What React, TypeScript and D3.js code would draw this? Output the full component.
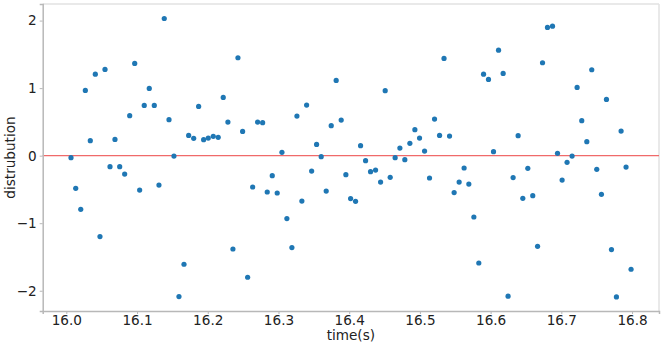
import { useEffect, useRef } from "react";
import * as d3 from "d3";

// sample times (s)
const times = [
  16.0066, 16.0133, 16.0204, 16.0269, 16.0339, 16.041, 16.0476, 16.0547, 16.0618, 16.0688,
  16.0755, 16.0825, 16.0896, 16.0967, 16.1037, 16.1102, 16.1173, 16.1244, 16.131, 16.1385,
  16.1452, 16.1522, 16.1593, 16.1664, 16.173, 16.1801, 16.1871, 16.1942, 16.2007, 16.2078,
  16.2148, 16.2219, 16.2285, 16.2356, 16.2427, 16.2493, 16.2564, 16.2635, 16.2705, 16.2776,
  16.2841, 16.2912, 16.2982, 16.3049, 16.3119, 16.319, 16.3261, 16.3331, 16.3398, 16.3469,
  16.3539, 16.3604, 16.3675, 16.3746, 16.3816, 16.3887, 16.3953, 16.402, 16.409, 16.4161,
  16.4232, 16.4302, 16.4373, 16.4444, 16.4509, 16.458, 16.465, 16.4717, 16.4787, 16.4858,
  16.4929, 16.4995, 16.5066, 16.5136, 16.5207, 16.5278, 16.5341, 16.5419, 16.5484, 16.5555,
  16.5625, 16.5692, 16.5763, 16.5833, 16.59, 16.597, 16.6041, 16.6112, 16.6177, 16.6247,
  16.6318, 16.6389, 16.6455, 16.6526, 16.6596, 16.6664, 16.6734, 16.6804, 16.6875, 16.6946,
  16.7011, 16.7081, 16.7152, 16.7223, 16.7289, 16.736, 16.743, 16.7501, 16.7567, 16.7638,
  16.7709, 16.7779, 16.7845, 16.7915, 16.7986,
];

const values = [
  -0.03, -0.484, -0.794, 0.966, 0.222, 1.207, -1.198, 1.277, -0.163, 0.241,
  -0.163, -0.272, 0.592, 1.365, -0.509, 0.744, 0.996, 0.744, -0.435, 2.031,
  0.533, -0.006, -2.086, -1.608, 0.3, 0.256, 0.729, 0.237, 0.26, 0.286,
  0.271, 0.862, 0.497, -1.382, 1.45, 0.359, -1.8, -0.464, 0.497, 0.488,
  -0.538, -0.296, -0.553, 0.049, -0.932, -1.361, 0.586, -0.672, 0.749, -0.228,
  0.167, -0.015, -0.524, 0.444, 1.114, 0.527, -0.281, -0.636, -0.676, 0.148,
  -0.074, -0.237, -0.213, -0.391, 0.962, -0.321, -0.03, 0.112, -0.059, 0.182,
  0.385, 0.26, 0.068, -0.331, 0.541, 0.3, 1.439, 0.29, -0.547, -0.391,
  -0.183, -0.42, -0.908, -1.589, 1.207, 1.129, 0.059, 1.562, 1.217, -2.081,
  -0.325, 0.296, -0.632, -0.188, -0.592, -1.342, 1.376, 1.898, 1.917, 0.034,
  -0.361, -0.099, -0.006, 1.01, 0.518, 0.207, 1.272, -0.203, -0.572, 0.833,
  -1.391, -2.092, 0.364, -0.169, -1.682,
];

const xTicks = [16.0, 16.1, 16.2, 16.3, 16.4, 16.5, 16.6, 16.7, 16.8];
const yTicks = [-2, -1, 0, 1, 2];

export default function App() {
  const svgRef = useRef<SVGSVGElement>(null);

  useEffect(() => {
    const svgElement = svgRef.current;
    if (!svgElement) return;

    const width = 663;
    const height = 347;
    const margin = { top: 4, right: 4, bottom: 36, left: 42.7 };

    const svg = d3.select(svgElement).attr("width", width).attr("height", height);

    const x = d3
      .scaleLinear()
      .domain([15.9666, 16.8381])
      .range([margin.left, width - margin.right]);

    const y = d3
      .scaleLinear()
      .domain([-2.3, 2.2455])
      .range([height - margin.bottom, margin.top]);

    const font = "DejaVu Sans, sans-serif";
    const fontSize = "13.6px";

    // frame: light top/right, darker left/bottom
    const x0 = margin.left;
    const x1 = width - margin.right;
    const y0 = margin.top;
    const y1 = height - margin.bottom;
    svg.append("line").attr("x1", x0).attr("x2", x1).attr("y1", y0).attr("y2", y0)
      .attr("stroke", "#e2e2e2").attr("stroke-width", 1.5);
    svg.append("line").attr("x1", x1).attr("x2", x1).attr("y1", y0).attr("y2", y1)
      .attr("stroke", "#e2e2e2").attr("stroke-width", 1.5);

    // zero line
    svg
      .append("line")
      .attr("x1", x0)
      .attr("x2", x1)
      .attr("y1", y(0))
      .attr("y2", y(0))
      .attr("stroke", "#f06a6a")
      .attr("stroke-width", 1.2);

    // points
    svg
      .selectAll(".dot")
      .data(times.map((t, i) => ({ t, v: values[i] })))
      .enter()
      .append("circle")
      .attr("class", "dot")
      .attr("cx", (d) => x(d.t))
      .attr("cy", (d) => y(d.v))
      .attr("r", 2.6)
      .attr("fill", "#1f77b4");

    const xAxis = svg
      .append("g")
      .attr("transform", `translate(0,${y1})`)
      .call(d3.axisBottom(x).tickValues(xTicks).tickFormat(d3.format(".1f")).tickSize(3).tickPadding(1.5));

    const yAxis = svg
      .append("g")
      .attr("transform", `translate(${x0},0)`)
      .call(d3.axisLeft(y).tickValues(yTicks).tickFormat((d) => d3.format("d")(d as number).replace("-", "\u2212")).tickSize(3).tickPadding(3));

    [xAxis, yAxis].forEach((g) => {
      g.select(".domain").attr("stroke", "#b8b8b8").attr("stroke-width", 1.5);
      g.selectAll(".tick line").attr("stroke", "#b8b8b8");
      g.selectAll(".tick text")
        .attr("fill", "#222")
        .style("font-family", font)
        .style("font-size", fontSize);
    });

    svg
      .append("text")
      .attr("x", (x0 + x1) / 2)
      .attr("y", 340)
      .attr("text-anchor", "middle")
      .style("font-family", font)
      .style("font-size", fontSize)
      .attr("fill", "#222")
      .text("time(s)");

    svg
      .append("text")
      .attr("transform", `translate(15,${(y0 + y1) / 2}) rotate(-90)`)
      .attr("text-anchor", "middle")
      .style("font-family", font)
      .style("font-size", fontSize)
      .attr("fill", "#222")
      .text("distrubution");

    return () => {
      d3.select(svgElement).selectAll("*").remove();
    };
  }, []);

  return <svg ref={svgRef} style={{ position: "absolute", left: 0, top: 0 }}></svg>;
}
